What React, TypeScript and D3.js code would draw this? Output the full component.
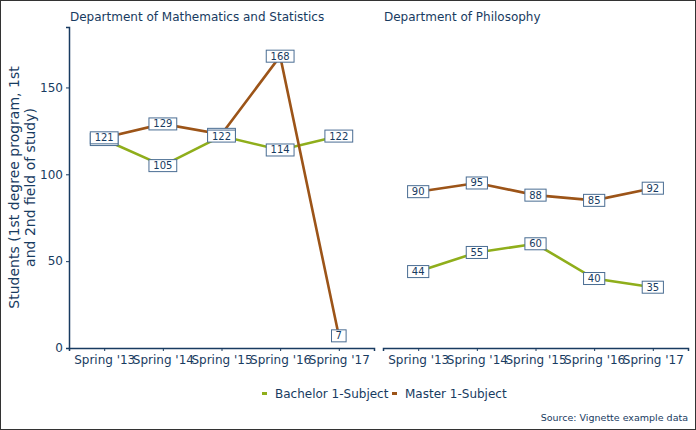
import React, { useEffect, useRef } from 'react';
import * as d3 from 'd3';

const terms = ["Spring '13", "Spring '14", "Spring '15", "Spring '16", "Spring '17"];
const departments = ['Department of Mathematics and Statistics', 'Department of Philosophy'];
const seriesNames = ['Bachelor 1-Subject', 'Master 1-Subject'];
const seriesColors = ['#8fae1b', '#9c5418'];

// values per department, [bachelor, master]
const mathBachelor = [120, 105, 122, 114, 122];
const mathMaster = [121, 129, 123, 168, 7];
const philBachelor = [44, 55, 60, 40, 35];
const philMaster = [90, 95, 88, 85, 92];
const yTicks = [0, 50, 100, 150];

const navy = '#183b61';
const font = 'DejaVu Sans, sans-serif';

const App = () => {
  const svgRef = useRef<SVGSVGElement>(null);
  const width = 696;
  const height = 430;

  useEffect(() => {
    const svg = d3.select(svgRef.current);
    svg.selectAll('*').remove();

    const panels = [
      { title: departments[0], left: 69, values: [mathBachelor, mathMaster] },
      { title: departments[1], left: 383, values: [philBachelor, philMaster] },
    ];
    const panelW = 305;
    const top = 27;
    const bottom = 348;

    const y = d3.scaleLinear().domain([0, 168 * 1.1]).range([bottom, top]);

    svg.append('rect')
      .attr('x', 0.5).attr('y', 0.5)
      .attr('width', width - 1).attr('height', height - 1)
      .attr('fill', 'white').attr('stroke', '#333').attr('stroke-width', 1);

    panels.forEach((p, pi) => {
      const x = d3.scalePoint<string>().domain(terms).range([p.left, p.left + panelW]).padding(0.6);
      const g = svg.append('g');

      g.append('text')
        .attr('x', p.left + 1).attr('y', 21)
        .attr('font-family', font).attr('font-size', 12).attr('fill', navy)
        .text(p.title);

      // x axis
      const xa = g.append('g')
        .attr('transform', `translate(0,${bottom})`)
        .call(d3.axisBottom(x).tickSizeOuter(0).tickSize(3).tickPadding(4));
      xa.select('.domain').attr('stroke', navy).attr('stroke-width', 1.5);
      xa.selectAll('.tick line').attr('stroke', navy);
      xa.selectAll('.tick text').attr('fill', navy).attr('font-family', font).attr('font-size', 12);

      if (pi === 0) {
        const ya = g.append('g')
          .attr('transform', `translate(${p.left},0)`)
          .call(d3.axisLeft(y).tickValues(yTicks).tickSizeOuter(0).tickSize(3).tickPadding(3));
        ya.select('.domain').attr('stroke', navy).attr('stroke-width', 1.5);
        ya.selectAll('.tick line').attr('stroke', navy);
        ya.selectAll('.tick text').attr('fill', navy).attr('font-family', font).attr('font-size', 12);
      }

      const line = d3.line<number>()
        .x((_, i) => x(terms[i]) as number)
        .y(d => y(d));

      p.values.forEach((vals, si) => {
        g.append('path')
          .datum(vals)
          .attr('d', line)
          .attr('fill', 'none')
          .attr('stroke', seriesColors[si])
          .attr('stroke-width', 2.6);
      });

      // labels, drawn term by term; where two overlap the higher-valued one at '13
      // sits on top, at later terms the bachelor one does
      const pts: { v: number; i: number }[] = [];
      terms.forEach((_, i) => {
        const order = i === 0 ? [0, 1] : [1, 0];
        order.forEach(si => pts.push({ v: p.values[si][i], i }));
      });
      const lab = g.selectAll(null)
        .data(pts)
        .join('g')
        .attr('transform', d => `translate(${x(terms[d.i])},${y(d.v)})`);
      lab.append('rect')
        .attr('x', d => -(String(d.v).length * 3.3 + 4))
        .attr('y', -6)
        .attr('width', d => String(d.v).length * 6.6 + 8)
        .attr('height', 12)
        .attr('fill', 'white')
        .attr('stroke', '#4a6d93')
        .attr('stroke-width', 1);
      lab.append('text')
        .attr('text-anchor', 'middle')
        .attr('dy', '0.35em')
        .attr('font-family', font).attr('font-size', 10).attr('fill', navy)
        .text(d => d.v);
    });

    // y title
    const yt = svg.append('text')
      .attr('transform', `translate(0,${(top + bottom) / 2}) rotate(-90)`)
      .attr('text-anchor', 'middle')
      .attr('font-family', font).attr('font-size', 14).attr('fill', navy);
    yt.append('tspan').attr('x', 0).attr('y', 19).text('Students (1st degree program, 1st');
    yt.append('tspan').attr('x', 0).attr('y', 35).text('and 2nd field of study)');

    // legend
    const legendX = [262, 392];
    seriesNames.forEach((name, i) => {
      svg.append('rect')
        .attr('x', legendX[i]).attr('y', 392)
        .attr('width', 5).attr('height', 3)
        .attr('fill', seriesColors[i]);
      svg.append('text')
        .attr('x', legendX[i] + 13).attr('y', 398)
        .attr('font-family', font).attr('font-size', 12).attr('fill', navy)
        .text(name);
    });

    svg.append('text')
      .attr('x', 688).attr('y', 421)
      .attr('text-anchor', 'end')
      .attr('font-family', font).attr('font-size', 9.5).attr('fill', navy)
      .text('Source: Vignette example data');
  }, []);

  return (
    <svg ref={svgRef} width={width} height={height} style={{ position: 'absolute', left: 0, top: 0 }}></svg>
  );
};

export default App;
